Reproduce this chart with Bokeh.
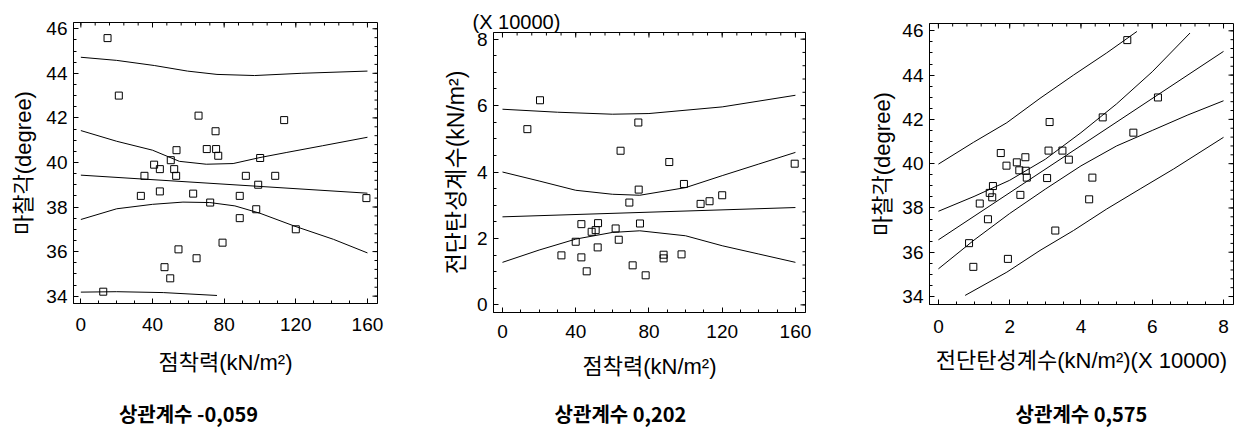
import math
import numpy as np
from bokeh.plotting import figure
from bokeh.models import Range1d, SingleIntervalTicker, Title
from bokeh.core.properties import value
from bokeh.layouts import row, column
from bokeh.embed import file_html
from bokeh.resources import INLINE

# ---------------- data ----------------
# Panel 1: cohesion (kN/m2) vs friction angle (degree)
p1_x = [14.9, 21.2, 65.7, 113.5, 75.2, 70.3, 75.5, 76.7, 53.4, 50.2, 40.9, 44.1, 52.1, 53.2,
        35.5, 100.1, 92.1, 108.5, 99.0, 33.5, 44.1, 62.7, 72.2, 88.7, 159.4, 97.9, 88.7,
        120.0, 79.1, 54.5, 64.6, 46.7, 49.9, 12.5]
p1_y = [45.58, 43.0, 42.1, 41.9, 41.4, 40.6, 40.6, 40.3, 40.55, 40.1, 39.9, 39.7, 39.7, 39.4,
        39.4, 40.2, 39.4, 39.4, 39.0, 38.5, 38.7, 38.6, 38.2, 38.5, 38.4, 37.9, 37.5,
        37.0, 36.4, 36.1, 35.7, 35.3, 34.8, 34.2]
p1_fit_x = [0, 160]
p1_fit_y = [39.43, 38.62]
p1_ucl_x = [0, 20, 40, 55, 70, 85, 100, 115, 135, 160]
p1_ucl_y = [41.43, 40.95, 40.55, 40.05, 39.92, 39.95, 40.22, 40.45, 40.75, 41.13]
p1_lcl_x = [0, 20, 40, 57, 72, 86, 100, 119, 141, 160]
p1_lcl_y = [37.44, 37.92, 38.12, 38.22, 38.2, 38.05, 37.72, 37.15, 36.55, 35.94]
p1_upl_x = [0, 20, 41, 59.5, 76, 97, 123, 160]
p1_upl_y = [44.72, 44.58, 44.35, 44.1, 43.95, 43.9, 44.0, 44.1]
p1_lpl_x = [0, 20, 46, 76]
p1_lpl_y = [34.18, 34.2, 34.16, 34.03]

# Panel 2: cohesion (kN/m2) vs shear modulus (x10000 kN/m2)
p2_x = [13.6, 20.5, 64.5, 74.2, 91.1, 74.4, 99.1, 69.3, 108.2, 113.1, 120.0, 159.6, 43.1,
        52.2, 48.7, 50.9, 61.8, 75.1, 63.5, 40.0, 52.0, 32.2, 43.1, 46.0, 71.1, 78.2,
        88.0, 88.0, 97.8]
p2_y = [5.29, 6.16, 4.64, 5.49, 4.30, 3.47, 3.64, 3.08, 3.04, 3.12, 3.30, 4.25, 2.43,
        2.46, 2.20, 2.25, 2.30, 2.45, 1.96, 1.90, 1.73, 1.49, 1.43, 1.01, 1.19, 0.89,
        1.51, 1.40, 1.52]
p2_fit_x = [0, 160]
p2_fit_y = [2.65, 2.93]
p2_ucl_x = [0, 20, 40, 60, 75, 100, 120, 140, 160]
p2_ucl_y = [4.0, 3.73, 3.45, 3.33, 3.3, 3.53, 3.89, 4.24, 4.59]
p2_lcl_x = [0, 20, 40, 60, 75, 100, 120, 140, 160]
p2_lcl_y = [1.28, 1.65, 1.98, 2.18, 2.23, 2.08, 1.78, 1.53, 1.28]
p2_upl_x = [0, 30, 60, 80, 120, 160]
p2_upl_y = [5.89, 5.8, 5.74, 5.76, 5.96, 6.31]

# Panel 3: shear modulus (x10000 kN/m2) vs friction angle (degree)
p3_x = [5.30, 6.16, 3.12, 4.61, 5.47, 1.75, 1.91, 2.20, 2.44, 2.27, 2.45, 2.48, 3.09, 3.48,
        3.66, 3.05, 4.32, 1.53, 1.44, 1.51, 1.16, 2.30, 4.23, 1.39, 3.28, 0.86, 1.95, 0.98]
p3_y = [45.58, 42.99, 41.88, 42.09, 41.40, 40.48, 39.91, 40.06, 40.29, 39.70, 39.68, 39.37,
        40.59, 40.59, 40.18, 39.35, 39.37, 38.99, 38.68, 38.48, 38.20, 38.59, 38.39, 37.49,
        36.98, 36.41, 35.70, 35.34]
p3_fit_x = [0, 8]
p3_fit_y = [36.56, 45.07]
p3_ucl_x = [0, 1, 2, 3, 4, 5, 6, 7.06]
p3_ucl_y = [37.85, 38.52, 39.25, 40.2, 41.4, 42.7, 44.15, 45.9]
p3_lcl_x = [0, 1, 2, 3, 4, 5, 6, 7, 8]
p3_lcl_y = [35.25, 36.55, 37.75, 38.85, 39.9, 40.8, 41.5, 42.2, 42.84]
p3_upl_x = [0, 0.98, 1.92, 2.85, 3.79, 4.72, 5.57]
p3_upl_y = [39.98, 40.96, 41.85, 42.95, 44.0, 45.0, 45.97]
p3_lpl_x = [0.75, 1.92, 2.85, 3.79, 4.72, 5.66, 6.6, 8]
p3_lpl_y = [34.05, 35.1, 36.08, 36.98, 37.95, 38.86, 39.76, 41.19]

# labels
p1_xlabel = "점착력(kN/m²)"
p1_ylabel = "마찰각(degree)"
p2_xlabel = "점착력(kN/m²)"
p2_ylabel = "전단탄성계수(kN/m²)"
p3_xlabel = "전단탄성계수(kN/m²)(X 10000)"
p3_ylabel = "마찰각(degree)"
scale_text = "(X 10000)"
captions = ["상관계수 -0,059", "상관계수 0,202", "상관계수 0,575"]
caption_x = [188, 620, 1081]

TICK_FONT = "Liberation Sans"
LABEL_FONT = "Liberation Sans, Noto Sans CJK KR"
CAP_FONT = "Noto Sans CJK KR"


def style_axis(ax, tick):
    ax.ticker = tick
    ax.axis_line_color = "black"
    ax.major_tick_in = 5
    ax.major_tick_out = 0
    ax.minor_tick_in = 3
    ax.minor_tick_out = 0
    ax.major_tick_line_color = "black"
    ax.minor_tick_line_color = "black"
    ax.major_label_text_font = TICK_FONT
    ax.major_label_text_font_size = "19px"
    ax.major_label_text_color = "black"
    ax.axis_label_text_font = LABEL_FONT
    ax.axis_label_text_font_size = "22px"
    ax.axis_label_text_font_style = "normal"
    ax.axis_label_text_color = "black"


def ticks_in(lo, hi, step):
    start = math.ceil(lo / step - 1e-9) * step
    return np.arange(start, hi + 1e-9, step)


def make_fig(w, h, fw, fh, xr, yr, bl, bt, xint, yint):
    p = figure(width=w, height=h, x_range=Range1d(*xr), y_range=Range1d(*yr),
               output_backend="svg", toolbar_location=None, title=None,
               min_border_left=bl, min_border_right=w - bl - fw, min_border_top=bt,
               min_border_bottom=h - bt - fh)
    p.grid.visible = False
    p.outline_line_color = "black"
    p.outline_line_width = 1
    p.background_fill_color = "white"
    p.border_fill_color = "white"
    xax = p.xaxis[0]
    yax = p.yaxis[0]
    style_axis(xax, SingleIntervalTicker(interval=xint, num_minor_ticks=4))
    style_axis(yax, SingleIntervalTicker(interval=yint, num_minor_ticks=4))
    yax.major_label_standoff = 6
    # mirrored inward ticks on the top and right edges of the frame
    dx = (xr[1] - xr[0]) / fw
    dy = (yr[1] - yr[0]) / fh
    for step, ln in ((xint, 5), (xint / 5, 3)):
        t = ticks_in(xr[0], xr[1], step)
        p.segment(x0=t, y0=[yr[1]] * len(t), x1=t, y1=[yr[1] - ln * dy] * len(t),
                  line_color="black", line_width=1)
    for step, ln in ((yint, 5), (yint / 5, 3)):
        t = ticks_in(yr[0], yr[1], step)
        p.segment(x0=[xr[1]] * len(t), y0=t, x1=[xr[1] - ln * dx] * len(t), y1=t,
                  line_color="black", line_width=1)
    return p, xax, yax


def lines(p, pairs):
    for xs, ys in pairs:
        p.line(xs, ys, line_color="black", line_width=1)


H = 396

# ---------------- panel 1 ----------------
f1, x1, y1 = make_fig(425, H, 304, 281, (-4.1, 165.6), (33.67, 46.28), 73, 22, 40, 2)
lines(f1, [(p1_fit_x, p1_fit_y), (p1_ucl_x, p1_ucl_y), (p1_lcl_x, p1_lcl_y),
           (p1_upl_x, p1_upl_y), (p1_lpl_x, p1_lpl_y)])
f1.scatter(p1_x, p1_y, marker="square", size=7, fill_color=None, line_color="black", line_width=1)
x1.axis_label = p1_xlabel
y1.axis_label = p1_ylabel
x1.major_label_standoff = 14
x1.axis_label_standoff = 16
y1.axis_label_standoff = 7

# ---------------- panel 2 ----------------
f2, x2, y2 = make_fig(430, H, 312, 280, (-4.9, 165.5), (-0.23, 8.2), 68, 32, 40, 2)
lines(f2, [(p2_fit_x, p2_fit_y), (p2_ucl_x, p2_ucl_y), (p2_lcl_x, p2_lcl_y),
           (p2_upl_x, p2_upl_y)])
f2.scatter(p2_x, p2_y, marker="square", size=7, fill_color=None, line_color="black", line_width=1)
x2.axis_label = p2_xlabel
y2.axis_label = p2_ylabel
y2.axis_label_text_font_size = "23px"
x2.major_label_standoff = 12
x2.axis_label_standoff = 13
y2.axis_label_standoff = 5
f2.add_layout(Title(text=scale_text, align="left", offset=-21, vertical_align="bottom",
                    standoff=0, text_font=TICK_FONT, text_font_size="20px",
                    text_font_style="normal", text_color="black"), "above")

# ---------------- panel 3 ----------------
f3, x3, y3 = make_fig(396, H, 304, 281, (-0.25, 8.28), (33.64, 46.33), 74, 23, 2, 2)
lines(f3, [(p3_fit_x, p3_fit_y), (p3_ucl_x, p3_ucl_y), (p3_lcl_x, p3_lcl_y),
           (p3_upl_x, p3_upl_y), (p3_lpl_x, p3_lpl_y)])
f3.scatter(p3_x, p3_y, marker="square", size=7, fill_color=None, line_color="black", line_width=1)
x3.axis_label = p3_xlabel
y3.axis_label = p3_ylabel
x3.major_label_standoff = 15
x3.axis_label_standoff = 12
y3.axis_label_standoff = 4

# ---------------- captions row ----------------
cap = figure(width=1251, height=38, x_range=Range1d(0, 1251), y_range=Range1d(434, 396),
             output_backend="svg", toolbar_location=None, min_border=0, title=None,
             x_axis_type=None, y_axis_type=None)
cap.outline_line_color = None
cap.grid.visible = False
cap.text(x=caption_x, y=[413] * 3, text=captions, text_font=value(CAP_FONT),
         text_font_size="20px", text_font_style="bold", text_align="center",
         text_baseline="middle", text_color="black")

layout = column(row(column(f1), column(f2), column(f3)), cap)
open("out.html", "w").write(file_html(layout, INLINE))
